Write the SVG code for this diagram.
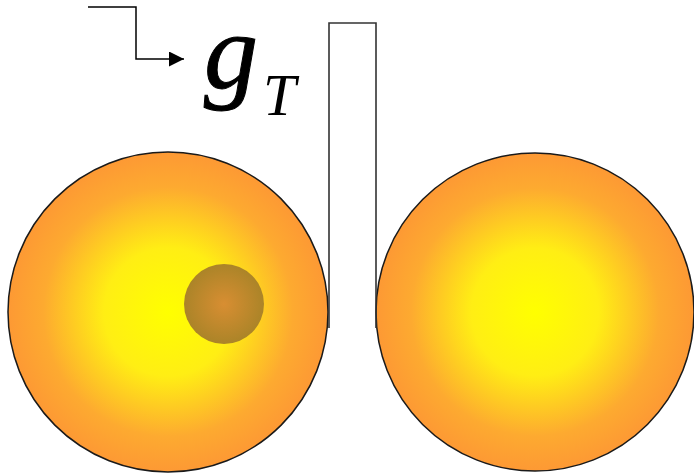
<svg xmlns="http://www.w3.org/2000/svg" width="694" height="476" viewBox="0 0 694 476">
<style>
.ball{stroke:#1a1a1a;stroke-width:1.5}
.wire{fill:none;stroke:#333333;stroke-width:1.6}
.lbl{font-family:"Liberation Serif","Times New Roman",serif;font-style:italic;fill:#000}
</style>
<defs>
<radialGradient id="gBall" cx="50%" cy="50%" r="50%">
<stop offset="0" stop-color="#ffff00"/>
<stop offset="0.4" stop-color="#ffee14"/>
<stop offset="0.78" stop-color="#fdaa30"/>
<stop offset="1" stop-color="#fd9934"/>
</radialGradient>
<radialGradient id="gSmall" cx="50%" cy="50%" r="50%">
<stop offset="0" stop-color="#d88e32"/>
<stop offset="1" stop-color="#ab8428"/>
</radialGradient>
<marker id="arr" markerWidth="15" markerHeight="15" refX="15" refY="7.5" orient="auto" markerUnits="userSpaceOnUse">
<path d="M0,0 L15,7.5 L0,15 Z" fill="#000"/>
</marker>
</defs>
<g id="ball-left">
<circle class="ball" cx="168" cy="312" r="160" fill="url(#gBall)"/>
<circle cx="224" cy="304" r="40" fill="url(#gSmall)"/>
</g>
<g id="ball-right">
<circle class="ball" cx="535" cy="312" r="159" fill="url(#gBall)"/>
</g>
<g id="connectors">
<path class="wire" d="M329,328 L329,23 L376,23 L376,328"/>
<path d="M88,7 L136,7 L136,59 L184,59" fill="none" stroke="#000" stroke-width="1.5" marker-end="url(#arr)"/>
</g>
<g id="label">
<text class="lbl" x="204" y="88" font-size="108" stroke="#000" stroke-width="1">g</text>
<text class="lbl" x="263" y="115" font-size="59">T</text>
</g>
</svg>
